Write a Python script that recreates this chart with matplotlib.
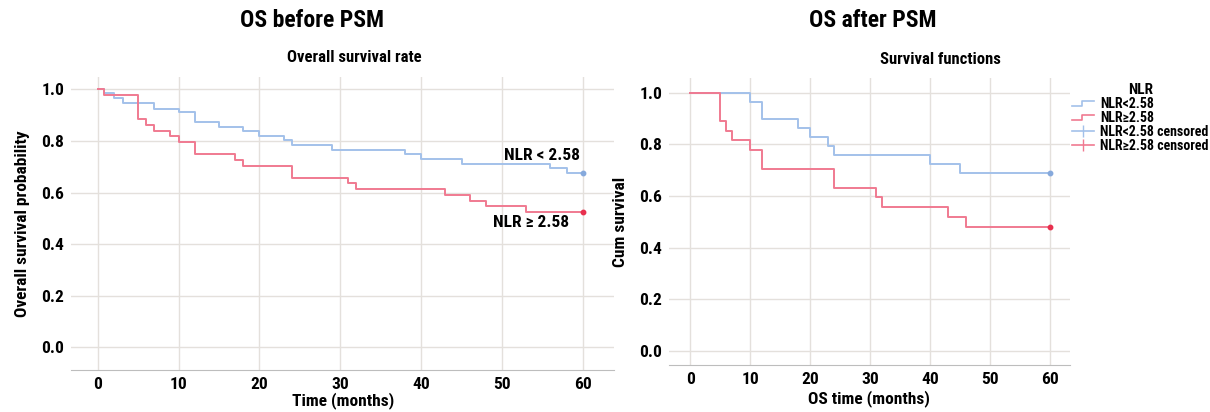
import numpy as np
import matplotlib
matplotlib.use("Agg")
import matplotlib.pyplot as plt
from matplotlib.lines import Line2D
from matplotlib.legend_handler import HandlerBase

plt.rcParams['font.family'] = ['Liberation Sans Narrow', 'Roboto Condensed', 'DejaVu Sans']
plt.rcParams['font.weight'] = 'bold'

# OS before PSM: event times (months) and survival after each step
before_low_t = [0, 0.8, 2, 3.1, 7, 10, 12, 15, 18, 20, 23, 24, 29, 38, 40, 45, 56, 58]
before_low_s = [1.0, 0.985, 0.965, 0.946, 0.926, 0.911, 0.875, 0.855, 0.839, 0.819,
                0.804, 0.785, 0.765, 0.75, 0.729, 0.711, 0.694, 0.675]
before_high_t = [0, 0.8, 5, 6, 7, 9, 10, 12, 17, 18, 24, 31, 32, 43, 46, 48, 53]
before_high_s = [1.0, 0.978, 0.885, 0.862, 0.84, 0.819, 0.797, 0.75, 0.726, 0.703,
                 0.655, 0.636, 0.614, 0.59, 0.569, 0.546, 0.523]

# OS after PSM
after_low_t = [0, 10, 12, 18, 20, 23, 24, 40, 45]
after_low_s = [1.0, 0.965, 0.897, 0.862, 0.83, 0.795, 0.759, 0.724, 0.688]
after_high_t = [0, 5, 6, 7, 10, 12, 24, 31, 32, 43, 46]
after_high_s = [1.0, 0.892, 0.853, 0.817, 0.778, 0.703, 0.63, 0.595, 0.556, 0.52, 0.481]

follow_up = 60
xticks = [0, 10, 20, 30, 40, 50, 60]
yticks = [0.0, 0.2, 0.4, 0.6, 0.8, 1.0]
legend_labels = ['NLR<2.58', 'NLR\u22652.58', 'NLR<2.58 censored', 'NLR\u22652.58 censored']

blue = '#a3c1ea'
red = '#f07a91'
blue_dot = '#86a9dc'
red_dot = '#e8304e'
grid_c = '#e4e0dc'


def km(ax, t, s, color, dot):
    tt = list(t) + [follow_up]
    ss = list(s) + [s[-1]]
    ax.step(tt, ss, where='post', color=color, lw=1.4)
    ax.plot([follow_up], [s[-1]], 'o', color=dot, ms=3.2, mec=dot)


def style(ax, xlim, ylim):
    ax.set_xlim(*xlim)
    ax.set_ylim(*ylim)
    ax.set_xticks(xticks)
    ax.set_yticks(yticks)
    ax.set_yticklabels(['%.1f' % v for v in yticks])
    ax.grid(True, color=grid_c, lw=1.0)
    ax.set_axisbelow(True)
    for sp in ['top', 'right', 'left']:
        ax.spines[sp].set_visible(False)
    ax.spines['bottom'].set_color('#bdbdbd')
    ax.tick_params(length=0, labelsize=12.5, pad=5)
    for lab in ax.get_xticklabels() + ax.get_yticklabels():
        lab.set_fontweight('bold')


class StepHandler(HandlerBase):
    def create_artists(self, legend, orig, xd, yd, w, h, fontsize, trans):
        x = np.array([0, 0.45, 0.45, 1.0]) * w - xd
        y = np.array([0.25, 0.25, 0.75, 0.75]) * h - yd
        ln = Line2D(x, y, color=orig.get_color(), lw=1.2, transform=trans)
        return [ln]


fig = plt.figure(figsize=(12.1, 4.12), dpi=100)

ax1 = fig.add_axes([0.0587, 0.102, 0.449, 0.711])
km(ax1, before_low_t, before_low_s, blue, blue_dot)
km(ax1, before_high_t, before_high_s, red, red_dot)
style(ax1, (-3.3, 63.9), (-0.088, 1.048))
ax1.set_xlabel('Time (months)', fontsize=12.5, fontweight='bold', labelpad=0)
ax1.set_ylabel('Overall survival probability', fontsize=12.5, fontweight='bold', labelpad=8)
ax1.text(59.7, 0.745, 'NLR < 2.58', ha='right', va='center', fontsize=12.5, fontweight='bold')
ax1.text(58.3, 0.483, 'NLR \u2265 2.58', ha='right', va='center', fontsize=12.5, fontweight='bold')

ax2 = fig.add_axes([0.553, 0.114, 0.331, 0.697])
km(ax2, after_low_t, after_low_s, blue, blue_dot)
km(ax2, after_high_t, after_high_s, red, red_dot)
style(ax2, (-3.5, 63.2), (-0.054, 1.057))
ax2.set_xlabel('OS time (months)', fontsize=12.5, fontweight='bold', labelpad=2)
ax2.set_ylabel('Cum survival', fontsize=12.5, fontweight='bold', labelpad=8)

fig.text(0.258, 0.951, 'OS before PSM', ha='center', va='center', fontsize=17, fontweight='bold')
fig.text(0.293, 0.860, 'Overall survival rate', ha='center', va='center', fontsize=12, fontweight='bold')
fig.text(0.721, 0.951, 'OS after PSM', ha='center', va='center', fontsize=17, fontweight='bold')
fig.text(0.777, 0.855, 'Survival functions', ha='center', va='center', fontsize=12, fontweight='bold')

handles = [Line2D([0], [0], color=blue), Line2D([0], [0], color=red),
           Line2D([0], [0], color=blue, marker='|', ms=8, lw=1.2),
           Line2D([0], [0], color=red, marker='|', ms=8, lw=1.2)]
leg = fig.legend(handles, legend_labels, title='NLR', loc='upper left',
                 bbox_to_anchor=(0.878, 0.822), frameon=False, fontsize=10,
                 title_fontsize=11, handlelength=1.6, handletextpad=0.4,
                 labelspacing=0.0, borderpad=0.2,
                 handler_map={handles[0]: StepHandler(), handles[1]: StepHandler()})
leg.get_title().set_fontweight('bold')
for t in leg.get_texts():
    t.set_fontweight('bold')

fig.savefig('out.png', dpi=100)
